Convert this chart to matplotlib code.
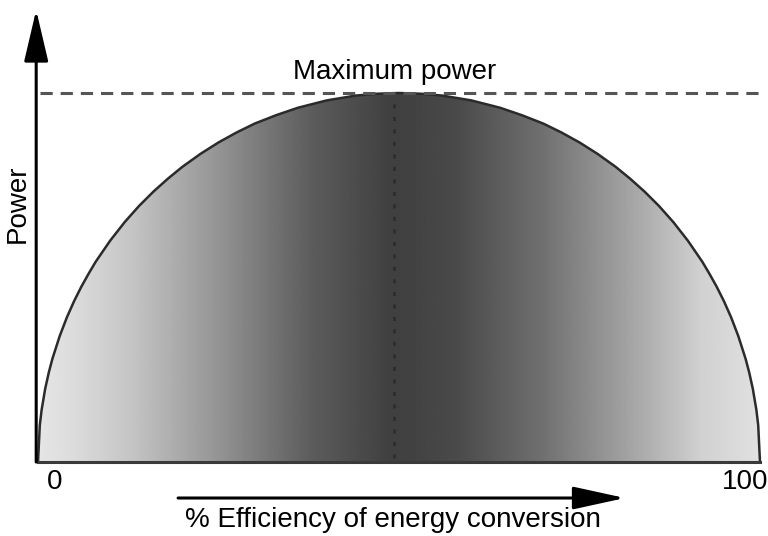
import numpy as np
import matplotlib.pyplot as plt
from matplotlib.patches import Polygon

plt.rcParams['font.family'] = ['Liberation Sans', 'DejaVu Sans']

# curve: % efficiency vs relative power (left half, right is mirror)
eff_left = [0, 0.25, 0.5, 1, 1.5, 2, 3, 4, 5, 6, 7, 8, 10, 12, 14, 16, 18, 20,
            22.5, 25, 27.5, 30, 33, 36, 40, 44, 47, 50]
pow_left = [0, 0.10, 0.141, 0.199, 0.243, 0.28, 0.341, 0.392, 0.436, 0.475, 0.51, 0.543,
            0.6, 0.65, 0.694, 0.733, 0.768, 0.8, 0.835, 0.866, 0.893, 0.917, 0.94, 0.96,
            0.98, 0.993, 0.998, 1.0]
efficiency = eff_left + [100 - e for e in eff_left[-2::-1]]
power = pow_left + pow_left[-2::-1]
max_power = 1.0
peak_eff = 49.3

# shading across the hump (grey level vs efficiency)
shade_eff = [0, 5, 13, 25, 32, 38, 45, 49, 52, 58, 70, 83, 92, 100]
shade_grey = [0.90, 0.86, 0.77, 0.58, 0.46, 0.36, 0.29, 0.25, 0.26, 0.29, 0.44, 0.66, 0.82, 0.88]

fig = plt.figure(figsize=(7.68, 5.36), dpi=100)
ax = fig.add_axes([38 / 768, 74 / 536, 722 / 768, 369 / 536])
ax.set_xlim(0, 100)
ax.set_ylim(0, 1)
ax.axis('off')

# gradient fill clipped to the curve
xs = np.linspace(0, 100, 600)
row = np.interp(xs, shade_eff, shade_grey)
img = np.tile(row, (10, 1))
im = ax.imshow(img, extent=(0, 100, 0, 1), origin='lower', cmap='gray', vmin=0, vmax=1,
               aspect='auto', interpolation='bilinear')
poly = Polygon(list(zip(efficiency, power)), closed=True, facecolor='none', edgecolor='none')
ax.add_patch(poly)
im.set_clip_path(poly)

# darker dotted ridge at the peak
ax.plot([peak_eff, peak_eff], [0.01, 0.99], color='#2e2e2e', lw=2.0, ls=(0, (1.5, 3)))

# outline and baseline
ax.plot(efficiency, power, color='#2b2b2b', lw=1.8, clip_on=False, solid_joinstyle='round')
ax.plot([0, 100], [0, 0], color='#3a3a3a', lw=2.2, clip_on=False)

# max power dashed line
ax.plot([0.3, 100], [max_power, max_power], color='#555555', lw=2.2,
        ls=(0, (4, 2.6)), clip_on=False)

# power axis arrow
ax.annotate('', xy=(-0.25, 1.225), xytext=(-0.25, 0), annotation_clip=False,
            arrowprops=dict(arrowstyle='-|>,head_length=3.2,head_width=0.75',
                            mutation_scale=10, lw=2.2, color='black', shrinkA=0, shrinkB=0))
# efficiency arrow
ax.annotate('', xy=(81.3, -0.0976), xytext=(19.4, -0.0976), annotation_clip=False,
            arrowprops=dict(arrowstyle='-|>,head_length=3.2,head_width=0.7',
                            mutation_scale=10, lw=2.2, color='black', shrinkA=0, shrinkB=0))

fs = 20
ax.text(49.4, 1.057, 'Maximum power', ha='center', va='center', fontsize=fs)
ax.text(49.2, -0.157, '% Efficiency of energy conversion', ha='center', va='center', fontsize=fs)
ax.text(2.35, -0.054, '0', ha='center', va='center', fontsize=fs)
ax.text(97.9, -0.054, '100', ha='center', va='center', fontsize=fs)
ax.text(-2.77, 0.70, 'Power', ha='center', va='center', rotation=90, fontsize=fs)

fig.savefig('out.png', dpi=100)
